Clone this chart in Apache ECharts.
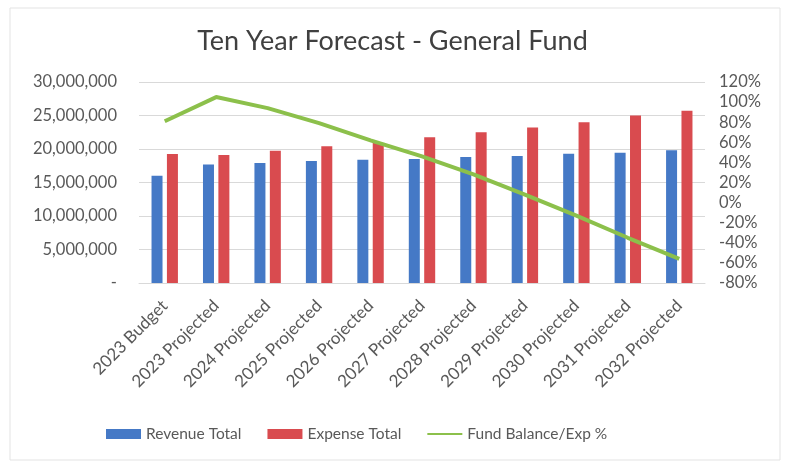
<!DOCTYPE html>
<html>
<head>
<meta charset="utf-8">
<script src="https://cdn.jsdelivr.net/npm/echarts@6/dist/echarts.min.js"></script>
<style>
  html, body { margin: 0; padding: 0; background: #fff; }
  #main { width: 785px; height: 463px; }
</style>
</head>
<body>
<div id="main"></div>
<script>
// categories + values
var years = ['2023 Budget', '2023 Projected', '2024 Projected', '2025 Projected', '2026 Projected',
  '2027 Projected', '2028 Projected', '2029 Projected', '2030 Projected', '2031 Projected', '2032 Projected'];
var revenue = [16000000, 17700000, 17900000, 18200000, 18400000, 18500000, 18800000, 18950000, 19300000, 19450000, 19800000];
var expense = [19250000, 19100000, 19750000, 20400000, 20900000, 21750000, 22500000, 23200000, 24000000, 25000000, 25700000];
var fundPct = [81, 105, 94, 79, 62, 46, 28, 8, -13, -35, -56];

var font = 'Lato';
var grey = '#595959';

var chart = echarts.init(document.getElementById('main'));

var option = {
  backgroundColor: '#fff',
  animation: false,
  textStyle: { fontFamily: font },
  title: {
    text: 'Ten Year Forecast - General Fund',
    left: 'center',
    top: 23,
    textStyle: { fontFamily: font, fontSize: 27, fontWeight: 'normal', color: '#404040' }
  },
  legend: {
    top: 421,
    left: 101,
    itemGap: 26,
    itemWidth: 35,
    itemHeight: 10,
    textStyle: { fontFamily: font, fontSize: 15.5, color: grey },
    data: [
      { name: 'Revenue Total', icon: 'rect' },
      { name: 'Expense Total', icon: 'rect' },
      { name: 'Fund Balance/Exp %', icon: 'path://M0,4 L35,4 L35,6 L0,6 Z' }
    ]
  },
  grid: { left: 139, right: 80, top: 82, bottom: 180 },
  xAxis: {
    type: 'category',
    data: years,
    axisLine: { lineStyle: { color: '#d9d9d9' } },
    axisTick: { show: false },
    axisLabel: { rotate: 45, interval: 0, fontSize: 17, color: grey, fontFamily: font, margin: 20 }
  },
  yAxis: [
    {
      type: 'value',
      min: 0,
      max: 30000000,
      interval: 5000000,
      axisLine: { show: false },
      axisTick: { show: false },
      splitLine: { lineStyle: { color: '#d9d9d9' } },
      axisLabel: {
        fontSize: 16.5, color: grey, fontFamily: font, margin: 22,
        formatter: function (v) { return v === 0 ? '-' : v.toLocaleString('en-US'); }
      }
    },
    {
      type: 'value',
      min: -80,
      max: 120,
      interval: 20,
      position: 'right',
      axisLine: { show: false },
      axisTick: { show: false },
      splitLine: { show: false },
      axisLabel: { fontSize: 16.5, color: grey, fontFamily: font, margin: 14, formatter: '{value}%' }
    }
  ],
  series: [
    {
      name: 'Revenue Total',
      type: 'bar',
      data: revenue,
      barWidth: 11,
      barGap: '40%',
      itemStyle: { color: '#4579c6' }
    },
    {
      name: 'Expense Total',
      type: 'bar',
      data: expense,
      barWidth: 11,
      itemStyle: { color: '#d94b4f' }
    },
    {
      name: 'Fund Balance/Exp %',
      type: 'line',
      yAxisIndex: 1,
      data: fundPct,
      symbol: 'none',
      lineStyle: { color: '#8cc04b', width: 4 },
      itemStyle: { color: '#8cc04b' }
    }
  ],
  graphic: [
    {
      type: 'rect',
      shape: { x: 10, y: 8, width: 770, height: 452 },
      style: { fill: 'none', stroke: '#e3e3e3', lineWidth: 1 },
      silent: true
    }
  ]
};

chart.setOption(option);
</script>
</body>
</html>
